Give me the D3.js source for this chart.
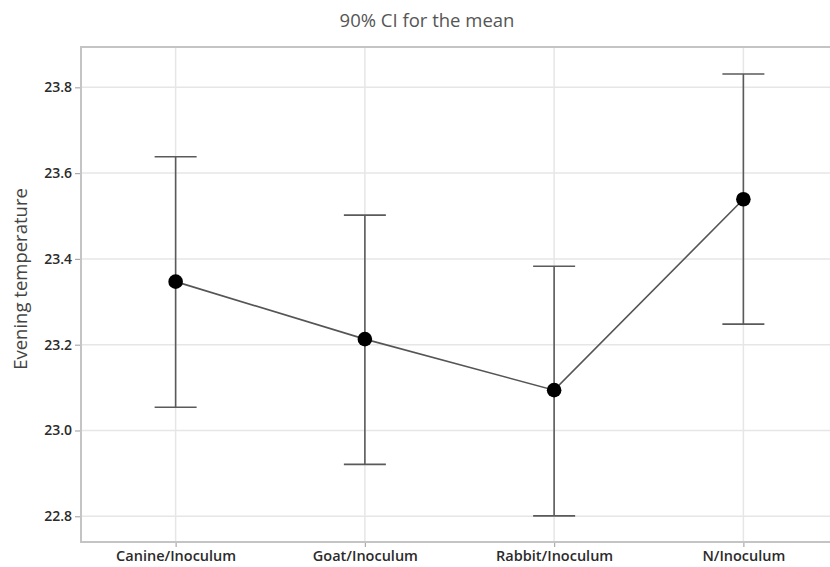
<!DOCTYPE html>
<html>
<head>
<meta charset="utf-8">
<script src="https://cdn.jsdelivr.net/npm/d3@7"></script>
<style>
  html, body { margin: 0; padding: 0; background: #fff; }
  svg { display: block; font-family: "Open Sans", "Noto Sans", sans-serif; }
</style>
</head>
<body>
<svg id="chart" width="830" height="567"></svg>
<script>
// Interval plot: mean evening temperature with 90% confidence intervals
const categories = ["Canine/Inoculum", "Goat/Inoculum", "Rabbit/Inoculum", "N/Inoculum"];
const means = [23.347, 23.213, 23.094, 23.539];
const lower = [23.054, 22.921, 22.801, 23.248];
const upper = [23.638, 23.502, 23.383, 23.831];
const yTicks = [22.8, 23.0, 23.2, 23.4, 23.6, 23.8];

const data = categories.map((c, i) => ({ cat: c, mean: means[i], lo: lower[i], hi: upper[i] }));

const svg = d3.select("#chart");
const plot = { left: 81, top: 47, right: 838, bottom: 542 };

const x = d3.scalePoint().domain(categories).range([plot.left, plot.right]).padding(0.5);
const y = d3.scaleLinear().domain([22.74, 23.894]).range([plot.bottom, plot.top]);

// gridlines
const grid = svg.append("g").attr("stroke", "#e6e6e6").attr("stroke-width", 1.5);
grid.selectAll("line.h").data(yTicks).join("line")
  .attr("x1", plot.left).attr("x2", plot.right)
  .attr("y1", d => y(d)).attr("y2", d => y(d));
grid.selectAll("line.v").data(categories).join("line")
  .attr("x1", d => x(d)).attr("x2", d => x(d))
  .attr("y1", plot.top).attr("y2", plot.bottom);

// plot frame
svg.append("path")
  .attr("d", `M${plot.right},${plot.top}H${plot.left}V${plot.bottom}H${plot.right}`)
  .attr("fill", "none").attr("stroke", "#c4c4c4").attr("stroke-width", 2);

// axes
const yAxis = svg.append("g").attr("transform", `translate(${plot.left - 1},0)`)
  .call(d3.axisLeft(y).tickValues(yTicks).tickFormat(d3.format(".1f")).tickSize(5).tickPadding(3));
const xAxis = svg.append("g").attr("transform", `translate(0,${plot.bottom + 1})`)
  .call(d3.axisBottom(x).tickSize(4).tickPadding(4));
[yAxis, xAxis].forEach(a => {
  a.select(".domain").remove();
  a.selectAll(".tick line").attr("stroke", "#aaa").attr("stroke-width", 1.2);
  a.selectAll(".tick text").attr("fill", "#2b2b2b")
    .attr("font-weight", 600).attr("font-family", "\"Open Sans\", sans-serif");
});
yAxis.selectAll(".tick text").attr("font-size", 14);
xAxis.selectAll(".tick text").attr("font-size", 14.5);

// error bars
const capHalf = 21;
const bars = svg.append("g").attr("stroke", "#5a5a5a").attr("stroke-width", 1.6);
bars.selectAll("line.stem").data(data).join("line")
  .attr("x1", d => x(d.cat)).attr("x2", d => x(d.cat))
  .attr("y1", d => y(d.hi)).attr("y2", d => y(d.lo));
bars.selectAll("line.top").data(data).join("line")
  .attr("x1", d => x(d.cat) - capHalf).attr("x2", d => x(d.cat) + capHalf)
  .attr("y1", d => y(d.hi)).attr("y2", d => y(d.hi));
bars.selectAll("line.bot").data(data).join("line")
  .attr("x1", d => x(d.cat) - capHalf).attr("x2", d => x(d.cat) + capHalf)
  .attr("y1", d => y(d.lo)).attr("y2", d => y(d.lo));

// line joining the means
svg.append("path").datum(data)
  .attr("fill", "none").attr("stroke", "#555").attr("stroke-width", 1.6)
  .attr("d", d3.line().x(d => x(d.cat)).y(d => y(d.mean)));

// mean markers
svg.append("g").selectAll("circle").data(data).join("circle")
  .attr("cx", d => x(d.cat)).attr("cy", d => y(d.mean)).attr("r", 7.3)
  .attr("fill", "#000");

// title
svg.append("text").attr("x", 427).attr("y", 27).attr("text-anchor", "middle")
  .attr("font-size", 18.5).attr("fill", "#555").text("90% CI for the mean");

// y-axis title
svg.append("text").attr("transform", "translate(27,279) rotate(-90)")
  .attr("text-anchor", "middle").attr("font-size", 18.5).attr("fill", "#444")
  .text("Evening temperature");
</script>
</body>
</html>
